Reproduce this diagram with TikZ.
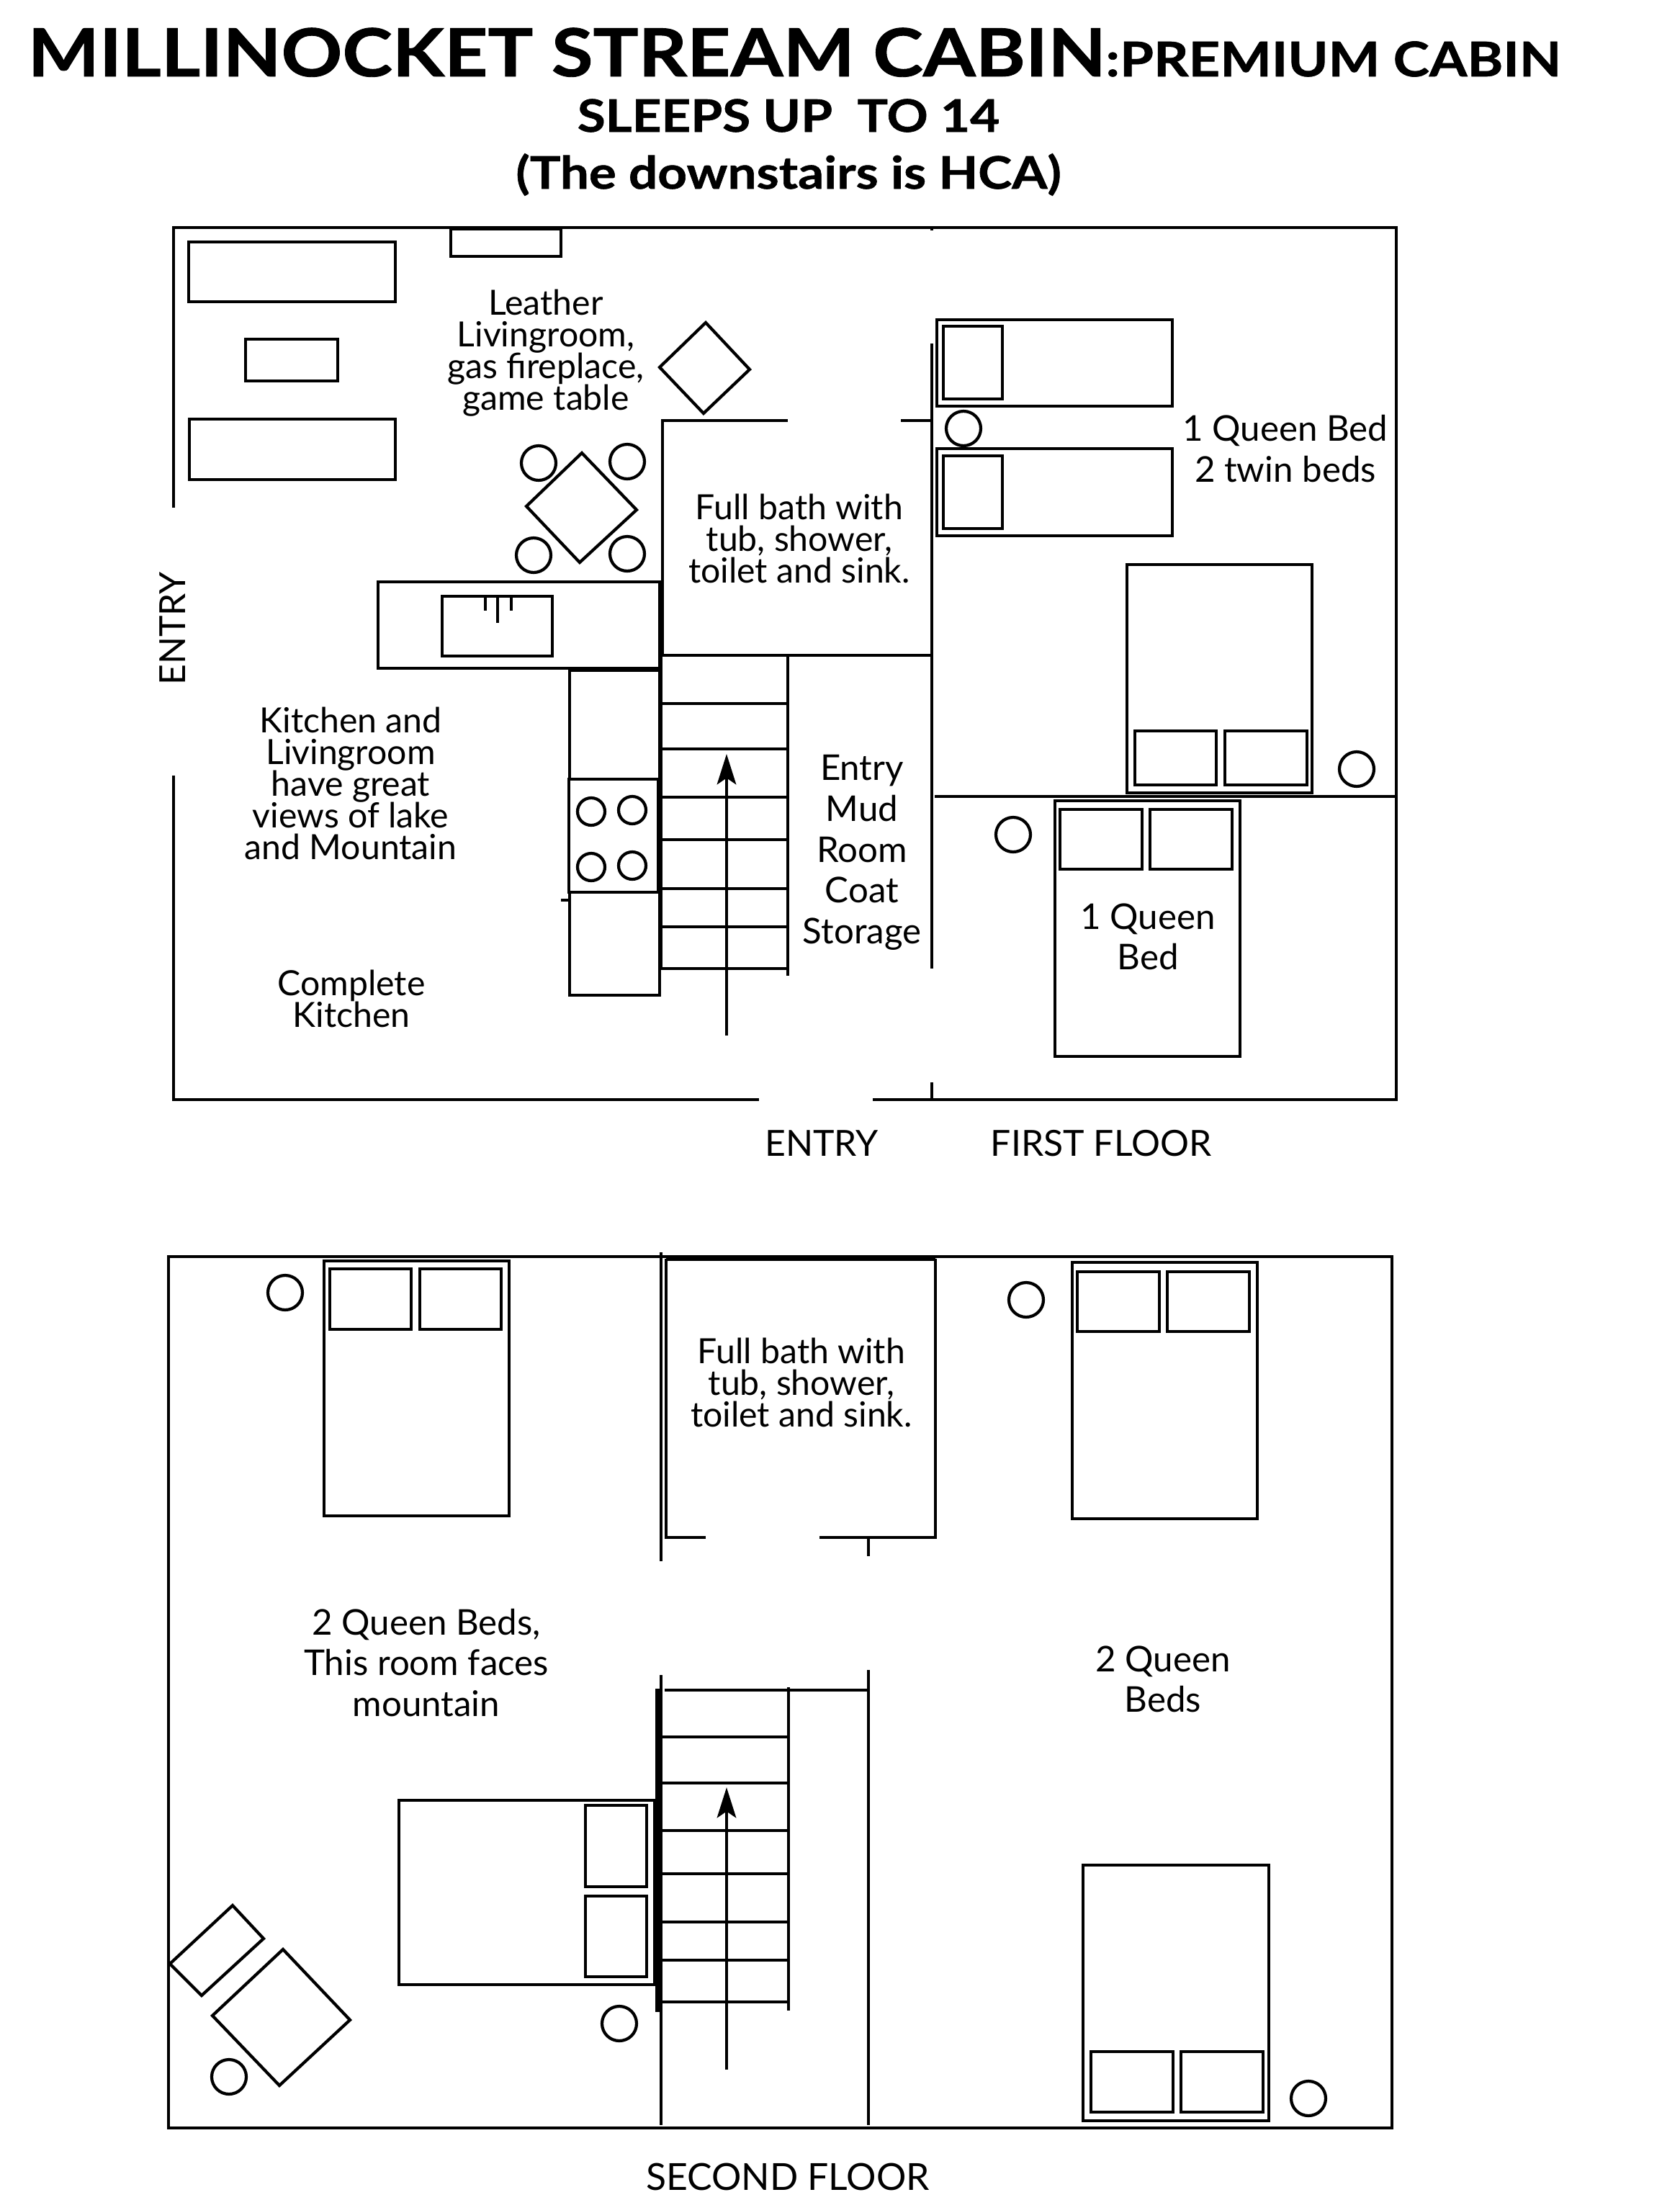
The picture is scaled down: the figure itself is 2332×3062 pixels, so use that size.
\documentclass[tikz,border=0pt]{standalone}
\usepackage{fontspec}
\setmainfont{Lato}
\newfontfamily\headfont[BoldFeatures={FakeStretch=1.14,FakeBold=1}]{Lato}
\usetikzlibrary{arrows.meta}
\newcommand{\snuglines}{\setlength{\lineskiplimit}{-100pt}}
\tikzstyle{wall} = [draw=black, line width=1.35pt]
\tikzstyle{furniture} = [draw=black, line width=1.2pt]
\tikzstyle{heavy} = [draw=black, line width=1.9pt]
\tikzstyle{stair} = [draw=black, line width=1.4pt, -{Stealth[length=12pt,width=7.5pt,inset=2.5pt]}]
\tikzstyle{heading} = [anchor=base, inner sep=0pt, font=\headfont\bfseries\fontsize{17.7}{20}\selectfont]
\tikzstyle{tight} = [align=center, inner sep=0pt, font=\fontsize{13.7}{12.5}\selectfont\snuglines]
\tikzstyle{wide} = [align=center, inner sep=0pt, font=\fontsize{14}{16.1}\selectfont\snuglines]
\tikzstyle{caption} = [inner sep=0pt, font=\fontsize{14.2}{16}\selectfont]
\begin{document}
\begin{tikzpicture}[x=0.01cm,y=-0.01cm]
	\useasboundingbox (0,0) rectangle (2332,3062);
	% headings
	\node[anchor=base west, inner sep=0pt] (title) at (38,106) {\headfont\bfseries\fontsize{26.2}{26}\selectfont MILLINOCKET STREAM CABIN\fontsize{18.9}{26}\selectfont:PREMIUM CABIN};
	\node[heading] (sleeps) at (1095,183) {SLEEPS UP\ \ TO 14};
	\node[heading] (hca) at (1095,262) {(The downstairs is HCA)};

	% first floor
	\draw[wall] (241,705) -- (241,316) -- (1939,316) -- (1939,1527) -- (1212,1527);
	\draw[wall] (1054,1527) -- (241,1527) -- (241,1077);
	\draw[wall] (1294,477) -- (1294,1345);
	\draw[wall] (1294,316) -- (1294,320);
	\draw[wall] (1294,1503) -- (1294,1527);
	\draw[wall] (1094,584) -- (920,584) -- (920,910) -- (1294,910);
	\draw[wall] (1251,584) -- (1294,584);
	\draw[wall] (1298,1106) -- (1939,1106);
	% sofas and fireplace
	\draw[furniture] (262,336) rectangle (549,419);
	\draw[furniture] (341,471) rectangle (469,529);
	\draw[furniture] (263,582) rectangle (549,666);
	\draw[furniture] (626,318) rectangle (779,356);
	\draw[furniture] (980,448) -- (1041,513) -- (977,574) -- (916,510) -- cycle;
	% table and chairs
	\draw[furniture] (808,629) -- (884,708) -- (805,781) -- (731,703) -- cycle;
	\draw[furniture] (748,643) circle (24);
	\draw[furniture] (871,641) circle (24);
	\draw[furniture] (741,771) circle (24);
	\draw[furniture] (871,769) circle (24);
	% kitchen
	\draw[furniture] (525,808) rectangle (916,928);
	\draw[furniture] (614,828) rectangle (767,911);
	\draw[furniture] (674,828) -- (674,848) (691,828) -- (691,865) (710,828) -- (710,848);
	\draw[wall] (791,931) rectangle (916,1382);
	\draw[wall, fill=white] (790,1082) rectangle (914,1239);
	\draw[furniture] (821,1127) circle (19);
	\draw[furniture] (878,1125) circle (19);
	\draw[furniture] (821,1204) circle (19);
	\draw[furniture] (878,1202) circle (19);
	\draw[furniture] (779,1250) -- (790,1250);
	% stairs
	\draw[wall] (1094,908) -- (1094,1355);
	\draw[wall] (918,910) -- (918,1345);
	\draw[furniture] (918,977) -- (1094,977) (918,1040) -- (1094,1040) (918,1107) -- (1094,1107) (918,1166) -- (1094,1166);
	\draw[furniture] (918,1234) -- (1094,1234) (918,1287) -- (1094,1287) (918,1345) -- (1094,1345);
	\draw[stair] (1009,1438) -- (1009,1047);
	% bedroom
	\draw[wall] (1301,444) rectangle (1628,564);
	\draw[wall] (1310,453) rectangle (1392,554);
	\draw[wall] (1301,623) rectangle (1628,744);
	\draw[wall] (1310,633) rectangle (1392,734);
	\draw[furniture] (1338,595) circle (24);
	\draw[wall] (1565,784) rectangle (1822,1101);
	\draw[furniture] (1576,1015) rectangle (1689,1090);
	\draw[furniture] (1701,1015) rectangle (1815,1090);
	\draw[furniture] (1884,1068) circle (24);
	\draw[wall] (1465,1112) rectangle (1722,1467);
	\draw[wall] (1472,1124) rectangle (1586,1207);
	\draw[wall] (1597,1124) rectangle (1711,1207);
	\draw[furniture] (1407,1159) circle (24);

	% labels
	\node[tight] (leather) at (758,490) {Leather\\Livingroom,\\gas fireplace,\\game table};
	\node[tight] (bathone) at (1110,748) {Full bath with\\tub, shower,\\toilet and sink.};
	\node[caption, rotate=90] (entryleft) at (240,873) {ENTRY};
	\node[tight] (views) at (487,1088) {Kitchen and\\Livingroom\\have great\\views of lake\\and Mountain};
	\node[tight] (complete) at (488,1387) {Complete\\Kitchen};
	\node[wide] (mudroom) at (1197,1184) {Entry\\Mud\\Room\\Coat\\Storage};
	\node[wide] (twins) at (1785,623) {1 Queen Bed\\2 twin beds};
	\node[wide] (queenone) at (1594,1301) {1 Queen\\Bed};
	\node[caption] (entrybottom) at (1141,1588) {ENTRY};
	\node[caption] (firstfloor) at (1529,1588) {FIRST FLOOR};

	% second floor
	\draw[wall] (918,1745) -- (234,1745) -- (234,2955) -- (1933,2955) -- (1933,1745) -- (918,1745);
	\draw[wall] (918,1739) -- (918,2168);
	\draw[wall] (918,2326) -- (918,2951);
	\draw[heavy] (925,1748) -- (1299,1748);
	\draw[wall] (980,2135) -- (925,2135) -- (925,1748);
	\draw[wall] (1138,2135) -- (1299,2135) -- (1299,1748);
	\draw[wall] (1206,2135) -- (1206,2161);
	\draw[wall] (1206,2319) -- (1206,2951);
	\draw[wall] (923,2347) -- (1206,2347);
	\draw[wall] (1095,2343) -- (1095,2792);
	\draw[heavy] (913,2345) -- (913,2794);
	\draw[furniture] (918,2412) -- (1095,2412) (918,2476) -- (1095,2476) (918,2542) -- (1095,2542) (918,2602) -- (1095,2602);
	\draw[furniture] (918,2669) -- (1095,2669) (918,2722) -- (1095,2722) (918,2780) -- (1095,2780);
	\draw[stair] (1009,2874) -- (1009,2482);
	% beds
	\draw[wall] (450,1751) rectangle (707,2105);
	\draw[wall] (458,1762) rectangle (571,1846);
	\draw[wall] (583,1762) rectangle (696,1846);
	\draw[furniture] (396,1795) circle (24);
	\draw[wall] (1489,1753) rectangle (1746,2109);
	\draw[wall] (1496,1766) rectangle (1610,1849);
	\draw[wall] (1621,1766) rectangle (1735,1849);
	\draw[furniture] (1425,1805) circle (24);
	\draw[wall] (554,2500) rectangle (909,2756);
	\draw[wall] (813,2507) rectangle (898,2620);
	\draw[wall] (813,2633) rectangle (898,2745);
	\draw[furniture] (860,2810) circle (24);
	\draw[wall] (1504,2590) rectangle (1762,2945);
	\draw[wall] (1515,2849) rectangle (1629,2933);
	\draw[wall] (1640,2849) rectangle (1754,2933);
	\draw[furniture] (1817,2914) circle (24);
	% chaise
	\draw[furniture] (323,2646) -- (366,2692) -- (280,2771) -- (236,2727) -- cycle;
	\draw[furniture] (393,2707) -- (486,2805) -- (388,2896) -- (295,2799) -- cycle;
	\draw[furniture] (318,2884) circle (24);

	% labels
	\node[tight] (bathtwo) at (1113,1920) {Full bath with\\tub, shower,\\toilet and sink.};
	\node[wide] (queenstwo) at (592,2309) {2 Queen Beds,\\This room faces\\mountain};
	\node[wide] (queensthree) at (1615,2332) {2 Queen\\Beds};
	\node[caption, font=\fontsize{14.7}{16}\selectfont] (secondfloor) at (1094,3023) {SECOND FLOOR};
\end{tikzpicture}
\end{document}
